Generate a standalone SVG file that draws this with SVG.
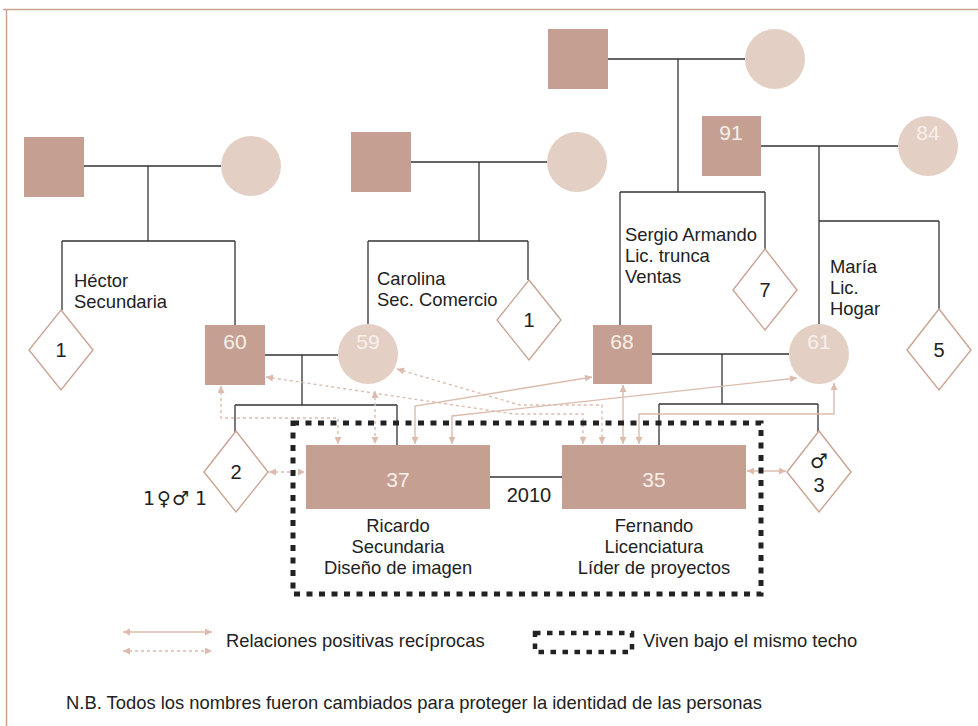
<svg xmlns="http://www.w3.org/2000/svg" width="978" height="726" viewBox="0 0 978 726">
<defs>
<style>
text{font-family:"Liberation Sans",Arial,sans-serif}
.m{fill:#c5a092}
.f{fill:#e4cfc5}
.d{fill:#fff;stroke:#c9a393;stroke-width:1.4}
.ln{fill:none;stroke:#333;stroke-width:1.3}
.rs{fill:none;stroke:#dcbcae;stroke-width:1.4;marker-start:url(#ah);marker-end:url(#ah)}
.rd{fill:none;stroke:#dcbcae;stroke-width:1.4;stroke-dasharray:3 3;marker-start:url(#ah);marker-end:url(#ah)}
.box{fill:none;stroke:#222;stroke-width:5;stroke-dasharray:6 6.5}
.age{font-size:21px;fill:#f8efea;text-anchor:middle}
.num{font-size:20px;fill:#222;text-anchor:middle}
.lbl{font-size:18.4px;fill:#222}
.lc{font-size:18.4px;fill:#222;text-anchor:middle}
</style>
<marker id="ah" viewBox="0 0 10 10" refX="10" refY="5" markerWidth="8" markerHeight="7" markerUnits="userSpaceOnUse" orient="auto-start-reverse">
<path d="M0,0 L10,5 L0,10 Z" fill="#dcbcae"/>
</marker>
</defs>
<rect width="978" height="726" fill="#fff"/>
<path d="M3,9.5 H978 M6.5,9 V726" fill="none" stroke="#c9a292" stroke-width="1.5"/>

<g id="connectors">
<path class="ln" d="M84,166 H221 M148,166 V241 M62,241 H235 M62,241 V310 M235,241 V325"/>
<path class="ln" d="M411,162 H547 M479,162 V241 M368,241 H528 M368,241 V325 M528,241 V280"/>
<path class="ln" d="M608,59 H745 M678,59 V192 M620,192 H765 M620,192 V325 M765,192 V249"/>
<path class="ln" d="M761,146 H898 M819,146 V221 H939 M819,221 V324 M939,221 V309"/>
<path class="ln" d="M265,355 H338 M302,355 V405 M235,405 H397 M235,405 V432 M397,405 V445"/>
<path class="ln" d="M652,354 H789 M722,354 V404 M659,404 H818 M659,404 V445 M818,404 V432"/>
<path class="ln" d="M490,477 H562" stroke-width="2.6"/>
<path class="rd" d="M221,386 V418 H338 V444"/>
<path class="rd" d="M375,391 V444"/>
<path class="rd" d="M397,369 L520,405 H602 V444"/>
<path class="rd" d="M266,377 L514,414 H583 V444"/>
<path class="rd" d="M269,472 H305"/>
<path class="rs" d="M415,444 V406 L592,377"/>
<path class="rs" d="M452,444 V416 L797,378"/>
<path class="rs" d="M623,385 V444"/>
<path class="rs" d="M834,383 V414 H639 V444"/>
<path class="rs" d="M747,471 H786"/>
</g>

<rect id="household" class="box" x="293" y="423" width="468" height="171"/>

<g id="gf1"><rect class="m" x="24" y="137" width="60" height="60"/></g>
<g id="gm1"><circle class="f" cx="251" cy="166" r="30"/></g>
<g id="gf2"><rect class="m" x="351" y="132" width="60" height="60"/></g>
<g id="gm2"><circle class="f" cx="577" cy="162" r="30"/></g>
<g id="gf3"><rect class="m" x="548" y="29" width="60" height="60"/></g>
<g id="gm3"><circle class="f" cx="775" cy="59" r="30"/></g>
<g id="gf4"><rect class="m" x="702" y="116" width="59" height="60"/><text class="age" x="731" y="140">91</text></g>
<g id="gm4"><circle class="f" cx="928" cy="146" r="30"/><text class="age" x="928" y="140">84</text></g>

<g id="hector"><text class="lbl" x="74" y="287">Héctor</text><text class="lbl" x="74" y="308">Secundaria</text></g>
<g id="sib1"><polygon class="d" points="61,310 93,350 61,390 29,350"/><text class="num" x="61" y="357">1</text></g>
<g id="p60"><rect class="m" x="205" y="325" width="60" height="60"/><text class="age" x="235" y="349">60</text></g>

<g id="carolina"><text class="lbl" x="377" y="285">Carolina</text><text class="lbl" x="377" y="306">Sec. Comercio</text></g>
<g id="p59"><circle class="f" cx="368" cy="354" r="30"/><text class="age" x="368" y="349">59</text></g>
<g id="sib2"><polygon class="d" points="529,280 561,320 529,360 497,320"/><text class="num" x="529" y="327">1</text></g>

<g id="sergio"><text class="lbl" x="625" y="241">Sergio Armando</text><text class="lbl" x="625" y="262">Lic. trunca</text><text class="lbl" x="625" y="283">Ventas</text></g>
<g id="p68"><rect class="m" x="593" y="325" width="59" height="59"/><text class="age" x="622" y="349">68</text></g>
<g id="sib3"><polygon class="d" points="765,249 797,290 765,330 733,290"/><text class="num" x="765" y="297">7</text></g>

<g id="maria"><text class="lbl" x="830" y="273">María</text><text class="lbl" x="830" y="294">Lic.</text><text class="lbl" x="830" y="315">Hogar</text></g>
<g id="p61"><circle class="f" cx="819" cy="354" r="30"/><text class="age" x="819" y="349">61</text></g>
<g id="sib4"><polygon class="d" points="939,309 971,350 939,390 907,350"/><text class="num" x="939" y="357">5</text></g>

<g id="sib5"><polygon class="d" points="236,431 268,472 236,512 204,472"/><text class="num" x="236" y="479">2</text>
<text x="143" y="505" font-size="19" fill="#222" style="font-family:'DejaVu Sans',sans-serif">1<tspan dx="2">♀</tspan><tspan dx="1">♂</tspan> 1</text></g>
<g id="ricardo"><rect class="m" x="306" y="445" width="184" height="64"/><text class="age" x="398" y="487">37</text>
<text class="lc" x="398" y="532">Ricardo</text><text class="lc" x="398" y="553">Secundaria</text><text class="lc" x="398" y="574">Diseño de imagen</text></g>
<text x="529" y="502" class="num" font-size="18">2010</text>
<g id="fernando"><rect class="m" x="562" y="445" width="184" height="64"/><text class="age" x="654" y="487">35</text>
<text class="lc" x="654" y="532">Fernando</text><text class="lc" x="654" y="553">Licenciatura</text><text class="lc" x="654" y="574">Líder de proyectos</text></g>
<g id="sib6"><polygon class="d" points="819,431 851,472 819,512 787,472"/>
<text x="819" y="468" font-size="20" fill="#222" text-anchor="middle" style="font-family:'DejaVu Sans',sans-serif">♂</text>
<text class="num" x="819" y="492">3</text></g>

<g id="legend">
<path class="rs" d="M123,632 H212"/>
<path class="rd" d="M123,651 H212"/>
<text class="lbl" x="226" y="647">Relaciones positivas recíprocas</text>
<rect x="535" y="633" width="97" height="19" fill="none" stroke="#222" stroke-width="4.5" stroke-dasharray="5.5 6.5"/>
<text class="lbl" x="643" y="647">Viven bajo el mismo techo</text>
<text class="lbl" x="66" y="709" font-size="19.5">N.B. Todos los nombres fueron cambiados para proteger la identidad de las personas</text>
</g>
</svg>
